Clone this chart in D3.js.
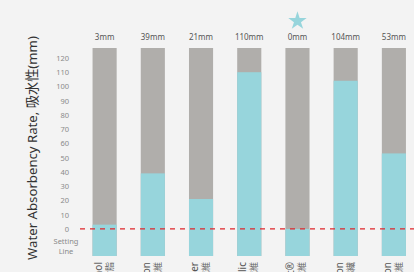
<!DOCTYPE html>
<html>
<head>
<meta charset="utf-8">
<script src="https://cdn.jsdelivr.net/npm/d3@7"></script>
<style>
  body { margin: 0; background: #f3f3f3; }
  svg { display: block; font-family: "Noto Sans", "Noto Sans CJK JP", sans-serif; }
</style>
</head>
<body>
<script>
var width = 414, height = 272;

var products = ['Phenol', 'Nylon', 'Polyester', 'Acrylic', 'Product®', 'Cotton', 'Rayon'];
var productsJa = ['樹脂', '繊維', '繊維', '繊維', '繊維', '綿繊', '繊維'];
var absorbency = [3, 39, 21, 110, 0, 104, 53];
var yTicks = [0, 10, 20, 30, 40, 50, 60, 70, 80, 90, 100, 110, 120];
var best = 'Product®';

var svg = d3.select('body')
  .append('svg')
    .attr('width', width)
    .attr('height', height);

var x = d3.scaleBand()
  .domain(products)
  .range([80.5, 418])
  .paddingInner(0.5)
  .paddingOuter(0.25);

var y = d3.scaleLinear()
  .domain([-19, 127])
  .range([256, 48]);

// grey full-height bars
svg.selectAll('.bg')
  .data(products)
  .enter().append('rect')
  .attr('x', function(d) { return x(d); })
  .attr('y', y(127))
  .attr('width', x.bandwidth())
  .attr('height', y(-19) - y(127))
  .style('fill', '#b0aeab');

// teal value bars, from the bottom up
svg.selectAll('.val')
  .data(absorbency)
  .enter().append('rect')
  .attr('x', function(d, i) { return x(products[i]); })
  .attr('y', function(d) { return y(d); })
  .attr('width', x.bandwidth())
  .attr('height', function(d) { return y(-19) - y(d); })
  .style('fill', '#97d5dc');

// setting line
svg.append('line')
  .attr('x1', 80).attr('x2', width)
  .attr('y1', y(0)).attr('y2', y(0))
  .style('stroke', '#e0262b')
  .style('stroke-width', 1.2)
  .style('stroke-dasharray', '5,5');

// y ticks
var yAxis = d3.axisLeft(y).tickValues(yTicks).tickSize(0).tickPadding(0);
var ga = svg.append('g').attr('transform', 'translate(69,0)').call(yAxis);
ga.select('.domain').remove();
ga.selectAll('text')
  .style('font-size', '7.5px')
  .style('fill', '#8a8a8a')
  .style('font-family', '"Noto Sans", sans-serif');

svg.append('text')
  .attr('x', 66).attr('y', 244)
  .attr('text-anchor', 'middle')
  .style('font-size', '7.5px').style('fill', '#8a8a8a')
  .text('Setting');
svg.append('text')
  .attr('x', 66).attr('y', 254)
  .attr('text-anchor', 'middle')
  .style('font-size', '7.5px').style('fill', '#8a8a8a')
  .text('Line');

// value labels
svg.selectAll('.lbl')
  .data(absorbency)
  .enter().append('text')
  .attr('x', function(d, i) { return x(products[i]) + x.bandwidth() / 2; })
  .attr('y', 40)
  .attr('text-anchor', 'middle')
  .style('font-size', '8px')
  .style('fill', '#555')
  .text(function(d) { return d + 'mm'; });

// star over the best product
svg.append('path')
  .attr('d', d3.symbol().type(d3.symbolStar).size(105)())
  .attr('transform', 'translate(' + (x(best) + x.bandwidth() / 2) + ',21)')
  .style('fill', '#97d5dc');

// rotated product names (cut at the bottom)
products.forEach(function(p, i) {
  var cx = x(p) + x.bandwidth() / 2;
  svg.append('text')
    .attr('transform', 'translate(' + (cx - 3) + ',262) rotate(-90)')
    .attr('text-anchor', 'end')
    .style('font-size', '10px')
    .style('fill', '#555')
    .text(p);
  svg.append('text')
    .attr('transform', 'translate(' + (cx + 8) + ',262) rotate(-90)')
    .attr('text-anchor', 'end')
    .style('font-size', '9px')
    .style('fill', '#666')
    .text(productsJa[i]);
});

// y title
svg.append('text')
  .attr('transform', 'translate(37,148) rotate(-90)')
  .attr('text-anchor', 'middle')
  .style('font-size', '13.2px')
  .style('fill', '#333')
  .text('Water Absorbency Rate, 吸水性(mm)');
</script>
</body>
</html>
